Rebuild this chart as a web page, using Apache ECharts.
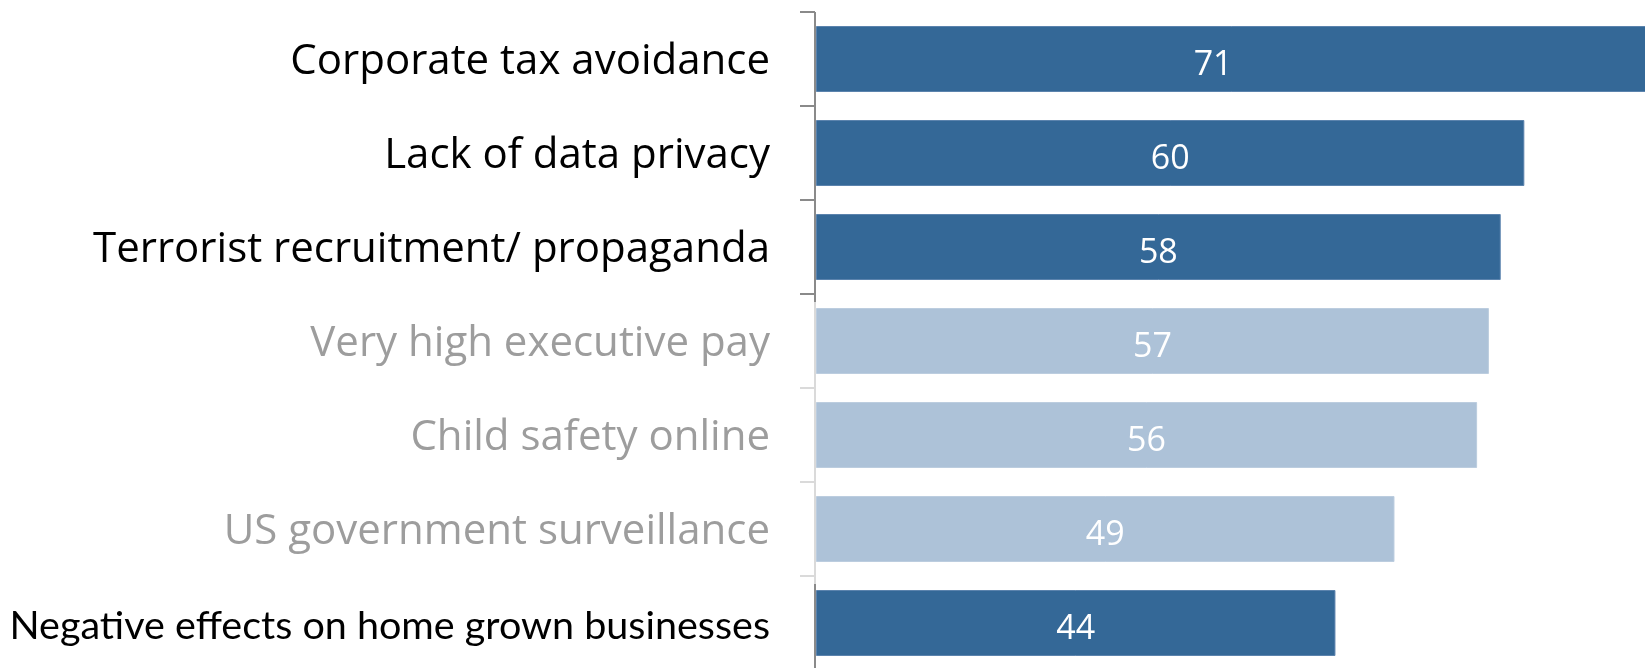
<!DOCTYPE html>
<html>
<head>
<meta charset="utf-8">
<style>
  html, body { margin: 0; padding: 0; background: #ffffff; }
  #chart { width: 1645px; height: 668px; }
</style>
<script src="https://cdn.jsdelivr.net/npm/echarts@6/dist/echarts.min.js"></script>
</head>
<body>
<div id="chart"></div>
<script>
// Concerns about large tech companies, share of respondents
const categories = [
  'Corporate tax avoidance',
  'Lack of data privacy',
  'Terrorist recruitment/ propaganda',
  'Very high executive pay',
  'Child safety online',
  'US government surveillance',
  'Negative effects on home grown businesses'
];
const values = [71, 60, 58, 57, 56, 49, 44];
// true = emphasised row (dark bar, black label)
const highlighted = [true, true, true, false, false, false, true];

const DARK_BAR = '#346897';
const LIGHT_BAR = '#adc2d8';
const DARK_TEXT = '#000000';
const LIGHT_TEXT = '#9d9d9d';
const DARK_AXIS = '#8a8a8a';
const LIGHT_AXIS = '#dadada';

const chart = echarts.init(document.getElementById('chart'), null, { renderer: 'canvas' });

const barData = values.map((v, i) => {
  const item = {
    value: v,
    itemStyle: {
      color: highlighted[i] ? DARK_BAR : LIGHT_BAR,
      borderColor: highlighted[i] ? '#5b83ad' : '#bccddf',
      borderWidth: 1
    }
  };
  // the longest bar runs past the right edge; keep its label in the visible part
  if (i === 0) item.label = { offset: [-22, 6] };
  return item;
});

// axis line segments and ticks, coloured per row
function renderAxis(params, api) {
  const idx = api.value(1);
  const pt = api.coord([0, idx]);
  const band = api.size([0, 1])[1];
  const x = pt[0] - 1;
  const y0 = pt[1] - band / 2;
  const y1 = pt[1] + band / 2;
  const color = highlighted[idx] ? DARK_AXIS : LIGHT_AXIS;
  const style = { stroke: color, lineWidth: 2 };
  const children = [
    { type: 'line', shape: { x1: x, y1: idx === 0 ? y0 : y0 + 8, x2: x, y2: y1 + 8 }, style },
    { type: 'line', shape: { x1: x - 15, y1: y1, x2: x, y2: y1 }, style }
  ];
  if (idx === 0) {
    children.push({ type: 'line', shape: { x1: x - 15, y1: y0, x2: x, y2: y0 }, style });
  }
  return { type: 'group', children };
}

const option = {
  animation: false,
  grid: {
    left: 816, width: 850, top: 12, height: 658,
    containLabel: false,
    outerBoundsMode: 'none'
  },
  xAxis: {
    type: 'value',
    min: 0,
    max: 72,
    show: false
  },
  yAxis: {
    type: 'category',
    data: categories,
    inverse: true,
    axisLine: { show: false },
    axisTick: { show: false },
    axisLabel: {
      margin: 46,
      formatter: (val, i) => {
        if (i === categories.length - 1) return '{small|' + val + '}';
        return (highlighted[i] ? '{dark|' : '{light|') + val + '}';
      },
      rich: {
        dark: { fontFamily: 'Open Sans', fontSize: 42, color: DARK_TEXT, padding: [6, 0, 0, 0] },
        light: { fontFamily: 'Open Sans', fontSize: 42, color: LIGHT_TEXT, padding: [6, 0, 0, 0] },
        small: { fontFamily: 'Lato', fontSize: 39.5, color: DARK_TEXT, padding: [6, 0, 0, 0] }
      }
    }
  },
  series: [
    {
      type: 'bar',
      data: barData,
      barWidth: 66,
      label: {
        show: true,
        position: 'inside',
        offset: [0, 6],
        color: '#ffffff',
        fontFamily: 'Open Sans',
        fontSize: 34
      }
    },
    {
      type: 'custom',
      renderItem: renderAxis,
      clip: false,
      silent: true,
      encode: { x: 0, y: 1 },
      data: categories.map(c => [0, c]),
      z: 5
    }
  ]
};

chart.setOption(option);
</script>
</body>
</html>
